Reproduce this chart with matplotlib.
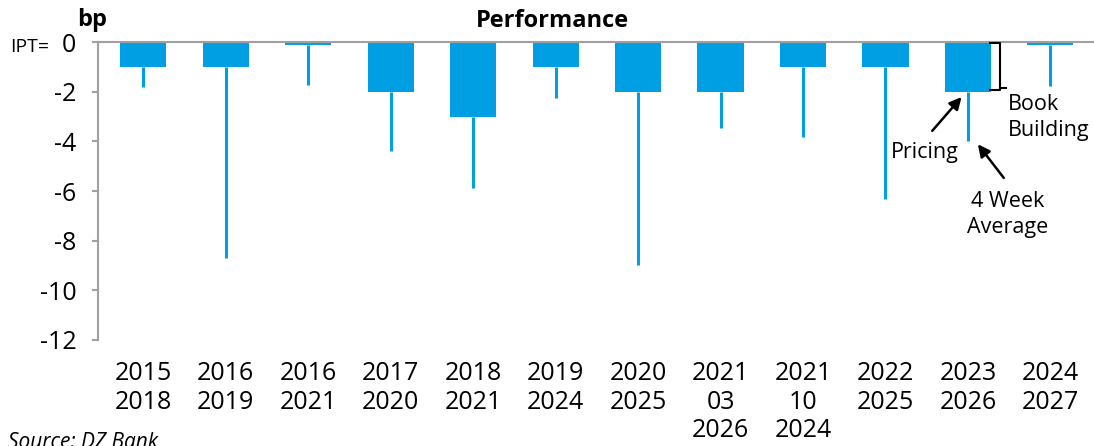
import numpy as np
import matplotlib
matplotlib.use("Agg")
from matplotlib import pyplot as plt

plt.rcParams['font.family'] = ['Open Sans', 'Noto Sans', 'DejaVu Sans']

# data
labels = ["2015\n2018", "2016\n2019", "2016\n2021", "2017\n2020", "2018\n2021",
          "2019\n2024", "2020\n2025", "2021\n03\n2026", "2021\n10\n2024",
          "2022\n2025", "2023\n2026", "2024\n2027"]
pricing = [-1, -1, -0.12, -2, -3, -1, -2, -2, -1, -1, -2, -0.12]
week4_avg = [-1.81, -8.7, -1.73, -4.39, -5.88, -2.26, -8.98, -3.46, -3.83, -6.32, -3.99, -1.77]

blue = "#009FE3"
grey = "#A0A0A0"

fig = plt.figure(figsize=(10.94, 4.46), dpi=100)
ax = fig.add_axes([0.0896, 0.2377, 0.912, 0.668])

x = np.arange(len(labels))
ax.bar(x, pricing, width=0.56, color=blue, zorder=2)
ax.vlines(x, pricing, week4_avg, color=blue, lw=2.2, zorder=2)

ax.set_xlim(-0.55, 11.55)
ax.set_ylim(-12, 0)
ax.set_yticks(np.arange(-12, 1, 2))
ax.set_yticklabels([str(v) for v in range(-12, 1, 2)])
ax.set_xticks(x)
ax.set_xticklabels(labels, va='top', linespacing=1.2)

for s in ['right', 'bottom']:
    ax.spines[s].set_visible(False)
ax.spines['left'].set_color(grey)
ax.spines['top'].set_color(grey)
ax.spines['left'].set_linewidth(1.5)
ax.spines['top'].set_linewidth(1.5)
ax.tick_params(axis='y', colors=grey, labelcolor='black', labelsize=18,
               length=4.5, width=1.5, pad=11)
ax.tick_params(axis='x', length=0, labelsize=18, pad=15)

# header texts
fig.text(0.084, 0.955, "bp", fontsize=17, fontweight='bold', ha='center', va='center')
fig.text(0.505, 0.952, "Performance", fontsize=17, fontweight='bold', ha='center', va='center')
fig.text(0.009, 0.895, "IPT=", fontsize=14, ha='left', va='center')
fig.text(0.007, 0.008, "Source: DZ Bank", fontsize=15, style='italic', ha='left', va='center')

# annotations
bx, bl = 10.39, 10.27
ax.plot([bl, bx, bx, bl], [-0.05, -0.05, -1.92, -1.92], color='black', lw=1.5,
        clip_on=False, zorder=3)
ax.plot([bx, bx + 0.07], [-1.85, -1.85], color='black', lw=1.5, clip_on=False, zorder=3)
ax.text(10.48, -3.05, "Book\nBuilding", fontsize=15.5, ha='left', va='center',
        linespacing=1.3)
ax.annotate("", xy=(9.945, -2.13), xytext=(9.545, -3.66),
            arrowprops=dict(arrowstyle='-|>', color='black', lw=1.8, mutation_scale=18))
ax.text(9.06, -4.43, "Pricing", fontsize=15.5, ha='left', va='center')
ax.annotate("", xy=(10.10, -4.03), xytext=(10.455, -5.56),
            arrowprops=dict(arrowstyle='-|>', color='black', lw=1.8, mutation_scale=18))
ax.text(10.48, -6.93, "4 Week\nAverage", fontsize=15.5, ha='center', va='center',
        linespacing=1.3)

fig.savefig("out.png", dpi=100)
